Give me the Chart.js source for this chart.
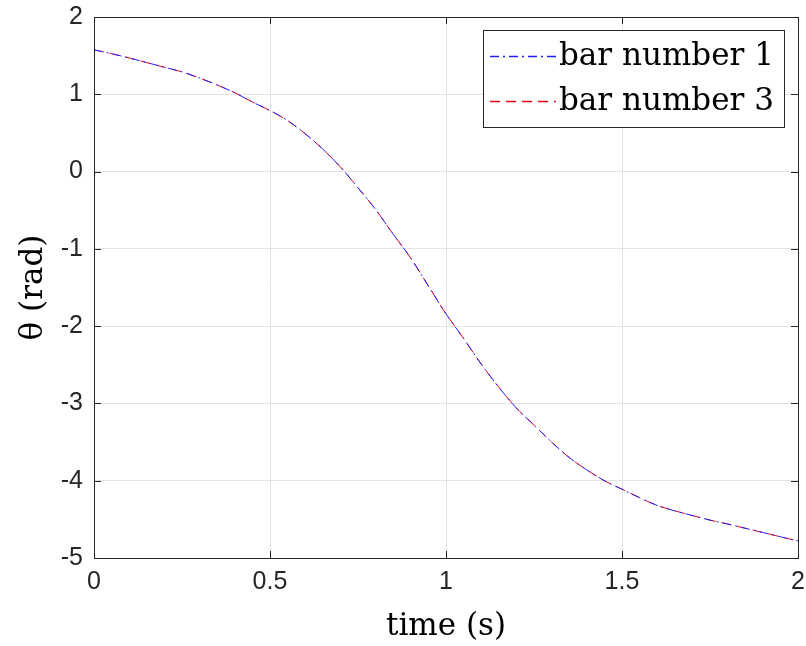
<!DOCTYPE html>
<html>
<head>
<meta charset="utf-8">
<script src="https://cdn.jsdelivr.net/npm/chart.js@4/dist/chart.umd.min.js"></script>
<style>
html,body{margin:0;padding:0;background:#fff;}
#wrap{width:806px;height:646px;}
</style>
</head>
<body>
<div id="wrap"><canvas id="c" width="806" height="646"></canvas></div>
<script>
const timeValues = [0,0.05,0.1,0.15,0.2,0.25,0.3,0.35,0.4,0.45,0.5,0.55,0.6,0.65,0.7,0.75,0.8,0.85,0.9,0.95,1.0,1.05,1.1,1.15,1.2,1.25,1.3,1.35,1.4,1.45,1.5,1.55,1.6,1.65,1.7,1.75,1.8,1.85,1.9,1.95,2.0];
const bar1Theta = [1.575,1.525,1.47,1.41,1.35,1.29,1.21,1.12,1.02,0.9,0.79,0.66,0.49,0.29,0.06,-0.21,-0.49,-0.81,-1.12,-1.48,-1.84,-2.16,-2.49,-2.79,-3.06,-3.28,-3.50,-3.70,-3.86,-4.00,-4.11,-4.22,-4.32,-4.39,-4.45,-4.51,-4.56,-4.615,-4.67,-4.725,-4.78];
const bar3Theta = [1.575,1.525,1.47,1.41,1.35,1.29,1.21,1.12,1.02,0.9,0.79,0.66,0.49,0.29,0.06,-0.21,-0.49,-0.81,-1.12,-1.48,-1.84,-2.16,-2.49,-2.79,-3.06,-3.28,-3.50,-3.70,-3.86,-4.00,-4.11,-4.22,-4.32,-4.39,-4.45,-4.51,-4.56,-4.615,-4.67,-4.725,-4.78];
const seriesNames = ['bar number 1','bar number 3'];
const xTicks = [0,0.5,1,1.5,2];
const yTicks = [-5,-4,-3,-2,-1,0,1,2];

const axisColor = '#262626';
const blue = 'rgb(30,30,255)';
const red = 'rgb(240,0,20)';
const serif = '"DejaVu Serif", "Liberation Serif", serif';
const sans = '"Liberation Sans", Arial, sans-serif';

const boxPlugin = {
  id: 'boxPlugin',
  afterDatasetsDraw(chart) {
    const {ctx, chartArea: a, scales} = chart;
    ctx.save();
    ctx.strokeStyle = axisColor;
    ctx.lineWidth = 1;
    const tl = 7;
    ctx.beginPath();
    xTicks.forEach(v => {
      const x = Math.round(scales.x.getPixelForValue(v)) + 0.5;
      ctx.moveTo(x, a.bottom); ctx.lineTo(x, a.bottom - tl);
      ctx.moveTo(x, a.top); ctx.lineTo(x, a.top + tl);
    });
    yTicks.forEach(v => {
      const y = Math.round(scales.y.getPixelForValue(v)) + 0.5;
      ctx.moveTo(a.left, y); ctx.lineTo(a.left + tl, y);
      ctx.moveTo(a.right, y); ctx.lineTo(a.right - tl, y);
    });
    ctx.stroke();
    ctx.strokeRect(Math.round(a.left) + 0.5, Math.round(a.top) + 0.5, Math.round(a.right - a.left), Math.round(a.bottom - a.top));
    // legend
    const lx = 483, ly = 30, lw = 301, lh = 97;
    ctx.fillStyle = '#fff';
    ctx.fillRect(lx, ly, lw, lh);
    ctx.strokeStyle = axisColor;
    ctx.strokeRect(lx + 0.5, ly + 0.5, lw, lh);
    const cols = [blue, red];
    chart.data.datasets.forEach((ds, i) => {
      const cy = ly + 26 + i * 45;
      ctx.beginPath();
      ctx.strokeStyle = cols[i];
      ctx.lineWidth = 1.4;
      ctx.setLineDash(ds.borderDash);
      ctx.moveTo(490, cy + 0.5); ctx.lineTo(556, cy + 0.5);
      ctx.stroke();
      ctx.setLineDash([]);
      ctx.fillStyle = '#000';
      ctx.font = '31px ' + serif;
      ctx.textBaseline = 'middle';
      ctx.textAlign = 'left';
      ctx.fillText(ds.label, 559, cy + 1);
    });
    ctx.restore();
  }
};

new Chart(document.getElementById('c'), {
  type: 'line',
  data: {
    datasets: [
      {
        label: seriesNames[0],
        data: timeValues.map((t, i) => ({x: t, y: bar1Theta[i]})),
        borderColor: blue,
        borderWidth: 1,
        borderDash: [9, 4, 2, 4],
        pointRadius: 0,
        cubicInterpolationMode: 'monotone',
        fill: false
      },
      {
        label: seriesNames[1],
        data: timeValues.map((t, i) => ({x: t, y: bar3Theta[i]})),
        borderColor: red,
        borderWidth: 1,
        borderDash: [10, 6],
        pointRadius: 0,
        cubicInterpolationMode: 'monotone',
        fill: false
      }
    ]
  },
  options: {
    responsive: false,
    animation: false,
    layout: {padding: {top: 17, right: 8, left: 0, bottom: 0}},
    plugins: {legend: {display: false}, tooltip: {enabled: false}},
    scales: {
      x: {
        type: 'linear',
        min: 0, max: 2,
        afterBuildTicks(s) { s.ticks = xTicks.map(v => ({value: v})); },
        afterFit(s) { s.height = 88; s.paddingLeft = 0; s.paddingRight = 0; },
        ticks: {
          color: axisColor,
          font: {family: sans, size: 25},
          padding: 9,
          maxRotation: 0,
          callback: v => String(v)
        },
        grid: {color: '#e3e3e3', drawTicks: false, lineWidth: 1},
        border: {display: false},
        title: {
          display: true,
          text: 'time (s)',
          color: '#000',
          font: {family: serif, size: 31},
          padding: {top: 0, bottom: 0}
        }
      },
      y: {
        type: 'linear',
        min: -5, max: 2,
        afterBuildTicks(s) { s.ticks = yTicks.map(v => ({value: v})); },
        afterFit(s) { s.width = 94; s.paddingTop = 0; s.paddingBottom = 0; },
        ticks: {
          color: axisColor,
          font: {family: sans, size: 25},
          padding: 11,
          callback: v => String(v)
        },
        grid: {color: '#e3e3e3', drawTicks: false, lineWidth: 1},
        border: {display: false},
        title: {
          display: true,
          text: 'θ (rad)',
          color: '#000',
          font: {family: serif, size: 31},
          padding: {top: 15, bottom: 0}
        }
      }
    }
  },
  plugins: [boxPlugin]
});
</script>
</body>
</html>
